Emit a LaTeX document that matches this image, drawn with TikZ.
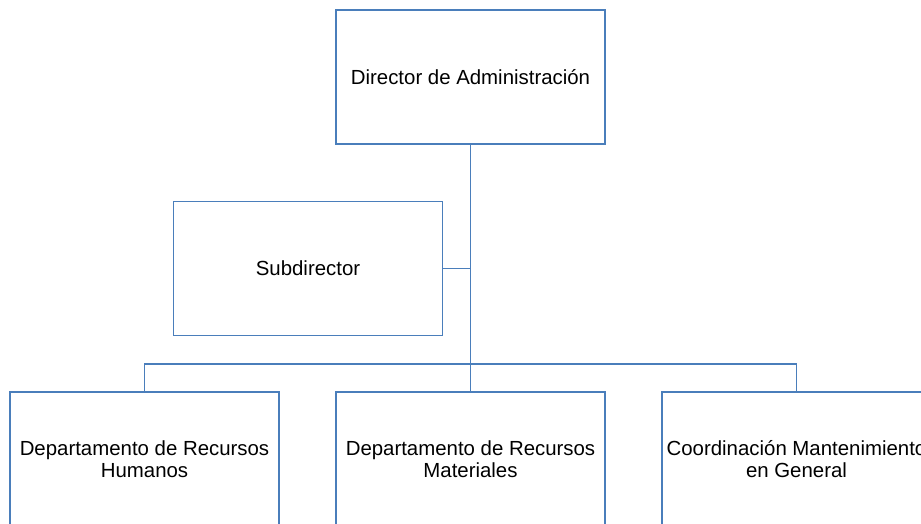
\documentclass[tikz,border=0pt]{standalone}
\usepackage{fontspec}
\setmainfont{Liberation Sans}
\definecolor{lineblue}{HTML}{4A7EBB}
\tikzset{
  orgbox/.style={draw=lineblue, line width=1.8pt, minimum width=269pt, minimum height=134pt,
    inner sep=0pt, align=center, font=\fontsize{20.4}{22}\selectfont, text=black},
  link/.style={draw=lineblue, line width=1.8pt}
}
\begin{document}
\begin{tikzpicture}[x=1pt,y=-1pt]
\useasboundingbox (0,0) rectangle (921,523);
\clip (0,0) rectangle (921,523);
\node[orgbox] (dir) at (470.5,77) {Director de Administración};
\node[orgbox] (sub) at (308,268.5) {Subdirector};
\node[orgbox] (rh) at (144.5,459) {Departamento de Recursos\\Humanos};
\node[orgbox] (rm) at (470.5,459) {Departamento de Recursos\\Materiales};
\node[orgbox] (cm) at (796.5,459) {Coordinación Mantenimiento\\en General};
\coordinate (bus) at (470.5,364);
\draw[link] (dir.south) -- (rm.north);
\draw[link] (sub.east) -- (sub.east -| dir.south);
\draw[link] (rh.north) |- (bus) -| (cm.north);
\end{tikzpicture}
\end{document}
